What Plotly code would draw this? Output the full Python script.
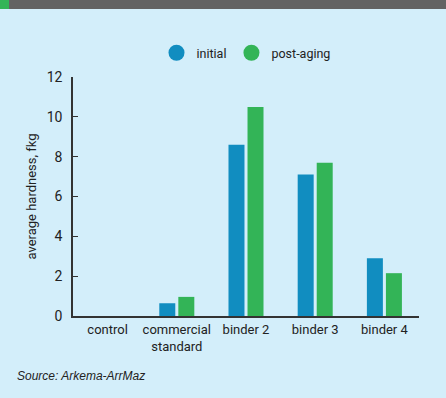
import plotly.graph_objects as go

categories = ["control", "commercial<br>standard", "binder 2", "binder 3", "binder 4"]
initial = [0, 0.64, 8.6, 7.1, 2.9]
post_aging = [0, 0.96, 10.5, 7.7, 2.15]
series_names = ["initial", "post-aging"]
colors = ["#118dc0", "#33b457"]
y_ticks = [0, 2, 4, 6, 8, 10, 12]

BG = "#d3eefa"
FONT = "Roboto"
TXT = "#222222"

fig = go.Figure()
for name, vals, c in zip(series_names, [initial, post_aging], colors):
    fig.add_trace(go.Bar(x=categories, y=vals, name=name, marker=dict(color=c, line=dict(width=0)),
                         showlegend=False))
for name, c in zip(series_names, colors):
    fig.add_trace(go.Scatter(x=[None], y=[None], mode="markers", name=name,
                             marker=dict(symbol="circle", size=16, color=c)))

fig.update_layout(
    width=446, height=398,
    paper_bgcolor=BG, plot_bgcolor=BG,
    margin=dict(l=73, r=27, t=77, b=82),
    barmode="group", bargap=0.45, bargroupgap=0.16,
    font=dict(family=FONT, size=13, color=TXT),
    legend=dict(orientation="h", x=0.5, xanchor="center", y=1.10, yanchor="middle",
                font=dict(family=FONT, size=12.5, color=TXT), bgcolor="rgba(0,0,0,0)",
                itemwidth=30),
    xaxis=dict(showline=True, linecolor="#333333", linewidth=2, ticks="", showgrid=False,
               tickfont=dict(family=FONT, size=13, color=TXT), zeroline=False),
    yaxis=dict(range=[0, 12], tickvals=y_ticks, showline=True, linecolor="#333333", linewidth=1.5,
               ticks="inside", ticklen=5, tickcolor="#333333", showgrid=False, zeroline=False,
               ticklabelstandoff=6,
               tickfont=dict(family=FONT, size=14, color=TXT),
               title=dict(text="average hardness, fkg", font=dict(family=FONT, size=13, color=TXT),
                          standoff=7)),
    shapes=[
        dict(type="rect", xref="paper", yref="paper", x0=-73/346, x1=(446-73)/346,
             y0=1 + (77-9)/239, y1=1 + 77/239, fillcolor="#636363", line=dict(width=0), layer="above"),
        dict(type="rect", xref="paper", yref="paper", x0=-73/346, x1=(-73+9)/346,
             y0=1 + (77-9)/239, y1=1 + 77/239, fillcolor="#33b457", line=dict(width=0), layer="above"),
    ],
    annotations=[
        dict(text="<i>Source: Arkema-ArrMaz</i>", xref="paper", yref="paper",
             x=-58/346, y=-(376-316)/239, xanchor="left", yanchor="middle", showarrow=False,
             font=dict(family="Liberation Sans", size=12, color=TXT)),
    ],
)

fig.write_html("out.html")
